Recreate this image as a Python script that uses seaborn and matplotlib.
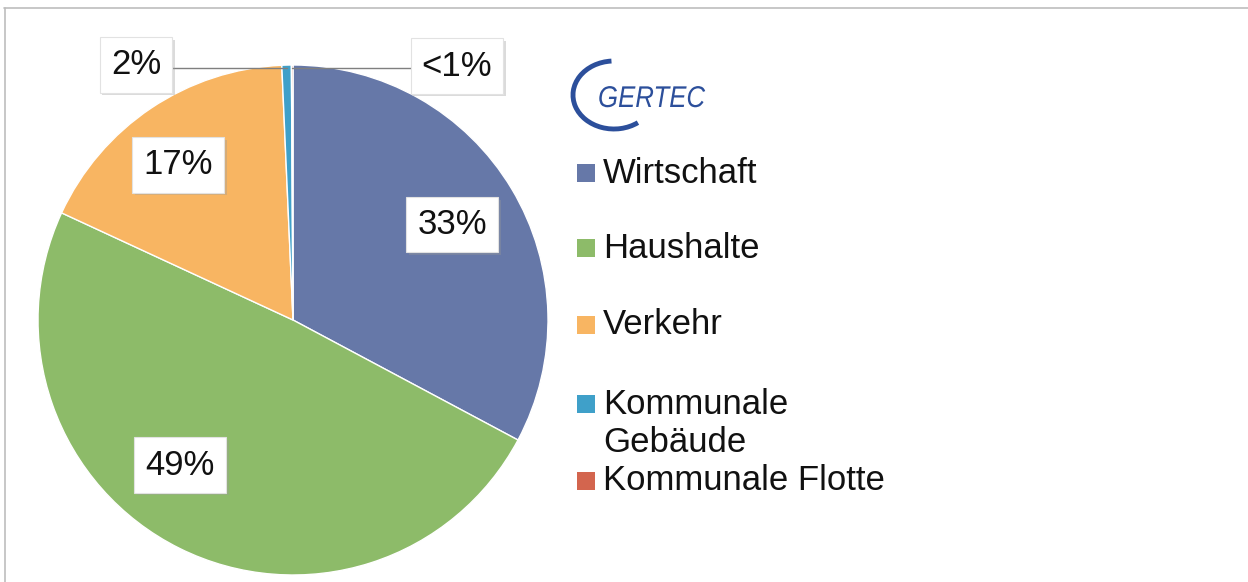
import matplotlib
matplotlib.use("Agg")
import matplotlib.pyplot as plt
import matplotlib.patheffects as pe
from matplotlib.patches import Arc, Rectangle, PathPatch
from matplotlib.lines import Line2D
from matplotlib.textpath import TextPath
from matplotlib.font_manager import FontProperties
from matplotlib.transforms import Affine2D, IdentityTransform
import numpy as np
import seaborn as sns

# ---- data ----
categories = ["Wirtschaft", "Haushalte", "Verkehr", "Kommunale\nGebäude", "Kommunale Flotte"]
shares = [32.8, 49.1, 17.4, 0.6, 0.1]
label_texts = ["33%", "49%", "17%", "2%", "<1%"]
colors = ["#6678a8", "#8dbb69", "#f8b562", "#3fa0c9", "#d3654e"]

sns.set_theme(style="white")
plt.rcParams["font.family"] = ["Liberation Sans", "DejaVu Sans"]

W, H = 1248, 582
fig = plt.figure(figsize=(W / 100, H / 100), dpi=100)
fig.patch.set_facecolor("white")

def fx(x):
    return x / W

def fy(y):
    return 1 - y / H

# pie axes: centre (293, 320) px, radius 255 px
cx, cy, R = 293, 320, 255
ax = fig.add_axes([fx(cx - R), fy(cy + R), 2 * R / W, 2 * R / H])
wedges, _ = ax.pie(shares, colors=colors, startangle=90, counterclock=False,
                   wedgeprops=dict(edgecolor="white", linewidth=1.0))
ax.set_xlim(-1, 1)
ax.set_ylim(-1, 1)
ax.set_aspect("equal")
ax.axis("off")

shadow = [pe.SimplePatchShadow(offset=(2, -2), shadow_rgbFace="#999999", alpha=0.35), pe.Normal()]
box = dict(boxstyle="square,pad=0.32", fc="white", ec="#e2e2e2", lw=0.8)
LFS = 25

# inner label positions (axes data units)
inner_pos = [(0.624, 0.373), (-0.443, -0.569), (-0.451, 0.608)]
for (x, y), t in zip(inner_pos, label_texts[:3]):
    tx = ax.text(x, y, t, ha="center", va="center", fontsize=LFS, color="#111111", bbox=box)
    tx.get_bbox_patch().set_path_effects(shadow)

# small slices with leader lines
outer_pos = [(-0.616, 1.0), (0.643, 0.996)]
for i, (x, y) in zip([3, 4], outer_pos):
    w = wedges[i]
    ang = np.deg2rad((w.theta1 + w.theta2) / 2)
    px, py = np.cos(ang), np.sin(ang)
    ax.plot([px, x], [0.99, 0.99], color="#7f7f7f", lw=1.0, zorder=1, clip_on=False)
    tx = ax.text(x, y, label_texts[i], ha="center", va="center", fontsize=LFS,
                 color="#111111", bbox=box, zorder=5, clip_on=False)
    tx.get_bbox_patch().set_path_effects(shadow)

# legend drawn in figure pixels
leg_y = [173, 248, 325, 404, 481]
for c, lab, y in zip(colors, categories, leg_y):
    fig.patches.append(Rectangle((fx(577), fy(y + 9)), 18 / W, 18 / H, transform=fig.transFigure,
                                 facecolor=c, edgecolor="none"))
    lines = lab.split("\n")
    for k, ln in enumerate(lines):
        fig.text(fx(603), fy(y + 38 * k), ln, ha="left", va="center", fontsize=LFS, color="#111111")

# logo
logo_c = "#2c4f9b"
fig.patches.append(Arc((fx(614), fy(95)), 82 / W, 68 / H, theta1=92, theta2=292,
                       transform=fig.transFigure, color=logo_c, lw=3.5))
tp = TextPath((0, 0), "GERTEC", size=30, prop=FontProperties(family="Liberation Sans", style="italic"))
tr = Affine2D().scale(0.86, 1.0).translate(598, H - 107) + IdentityTransform()
fig.patches.append(PathPatch(tp, transform=tr, facecolor=logo_c, edgecolor="none"))

# frame lines (top and left)
fig.lines.append(Line2D([fx(4), 1], [fy(8), fy(8)], transform=fig.transFigure, color="#bdbdbd", lw=1.2))
fig.lines.append(Line2D([fx(4.5), fx(4.5)], [0, fy(8)], transform=fig.transFigure, color="#bdbdbd", lw=1.2))

fig.savefig("out.png", dpi=100, facecolor="white")
